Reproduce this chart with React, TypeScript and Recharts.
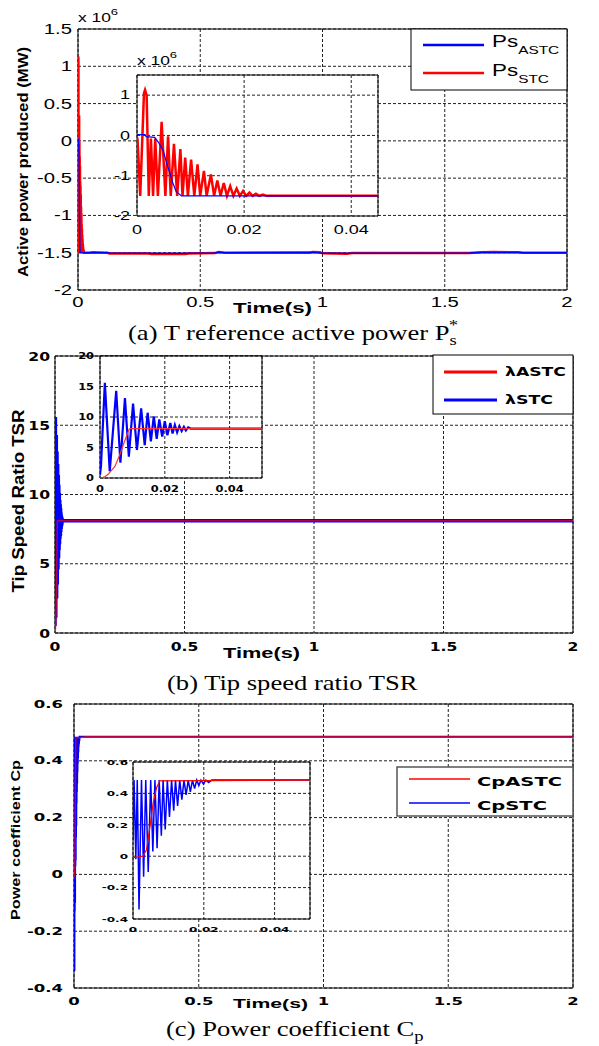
import React from 'react';
import { LineChart, Line, XAxis, YAxis, CartesianGrid, ReferenceArea } from 'recharts';

type Pt = [number, number];

// shared time ticks
const timeTicks = [0, 0.5, 1, 1.5, 2];
const insetTimeTicks = [0, 0.02, 0.04];

// (a) active power, values in units of 10^6
const powerTicksY = [-2, -1.5, -1, -0.5, 0, 0.5, 1, 1.5];
const powerInsetTicksY = [-2, -1, 0, 1];

const powerSTC: Pt[] = [
  [0, -0.05], [0.0001, -0.1], [0.0006, -1.5], [0.001, -0.05], [0.0013, 1.05], [0.0015, 1.13],
  [0.0018, 1.0], [0.0022, -1.5], [0.0026, -0.08], [0.003, -1.5], [0.0034, -0.08], [0.0039, -1.5],
  [0.0046, 0.34], [0.0053, -1.5], [0.0058, -0.02], [0.0063, -1.5], [0.0069, -0.21], [0.0075, -1.5],
  [0.0081, -0.34], [0.0085, -1.5], [0.009, -0.55], [0.0095, -1.5], [0.0101, -0.6], [0.0107, -1.5],
  [0.0113, -0.72], [0.0118, -1.5], [0.0125, -0.88], [0.013, -1.5], [0.0138, -0.97], [0.0144, -1.5],
  [0.015, -1.12], [0.0156, -1.5], [0.0162, -1.18], [0.0168, -1.5], [0.0174, -1.26], [0.018, -1.5],
  [0.0186, -1.32], [0.0192, -1.5], [0.0198, -1.38], [0.0204, -1.5], [0.021, -1.42], [0.0216, -1.5],
  [0.0222, -1.45], [0.0228, -1.5], [0.0235, -1.47], [0.0242, -1.5], [0.045, -1.5],
];
const powerASTC: Pt[] = [
  [0, 0.02], [0.0015, 0.02], [0.0017, -0.03], [0.0033, -0.05], [0.004, -0.17], [0.0049, -0.38],
  [0.0055, -0.67], [0.0061, -0.92], [0.0067, -1.18], [0.0073, -1.39], [0.0083, -1.5], [0.045, -1.5],
];
const powerSTCTail: Pt[] = [
  [0.06, -1.495], [0.12, -1.5], [0.13, -1.51], [0.29, -1.51], [0.3, -1.518], [0.44, -1.518], [0.45, -1.51],
  [0.56, -1.505], [0.575, -1.49], [0.6, -1.5], [0.95, -1.5], [0.96, -1.49], [0.99, -1.495], [1.0, -1.508],
  [1.1, -1.515], [1.12, -1.505], [1.6, -1.505], [1.65, -1.495], [1.7, -1.49], [1.8, -1.495], [1.82, -1.5], [2, -1.5],
];
const powerASTCTail: Pt[] = [
  [0.06, -1.5], [0.12, -1.5], [0.13, -1.507], [0.45, -1.507], [0.56, -1.503], [0.575, -1.493], [0.6, -1.5],
  [0.96, -1.495], [1.0, -1.506], [1.12, -1.506], [1.6, -1.505], [1.65, -1.497], [1.8, -1.497],
  [1.82, -1.5], [2, -1.5],
];

// (b) tip speed ratio
const tsrTicksY = [0, 5, 10, 15, 20];
const tsrSTC: Pt[] = [
  [0, 0.5], [0.0003, 2.0], [0.0015, 15.6], [0.003, 1.1], [0.005, 14.3], [0.0063, 2.5], [0.0077, 13.1],
  [0.0089, 3.5], [0.0102, 12.2], [0.0114, 4.6], [0.0127, 11.4], [0.0138, 5.4], [0.0147, 10.7],
  [0.0157, 6.0], [0.0166, 10.1], [0.0175, 6.4], [0.0183, 9.6], [0.0192, 6.8], [0.02, 9.3], [0.0208, 7.0],
  [0.0217, 9.0], [0.0224, 7.3], [0.0231, 8.7], [0.0238, 7.5], [0.0245, 8.5], [0.0252, 7.7], [0.0259, 8.4],
  [0.0265, 7.8], [0.0272, 8.3], [0.028, 8.1], [0.05, 8.1],
];
const tsrASTC: Pt[] = [
  [0, 0], [0.0015, 0.2], [0.0025, 0.6], [0.0046, 1.9], [0.0061, 3.8], [0.0077, 6.2], [0.009, 8.0],
  [0.0095, 8.1], [0.05, 8.1],
];
const tsrSTCTail: Pt[] = [[2, 8.1]];
const tsrASTCTail: Pt[] = [[2, 8.1]];

// (c) power coefficient
const cpTicksY = [-0.4, -0.2, 0, 0.2, 0.4, 0.6];
const cpSTC: Pt[] = [
  [0, 0.1], [0.0003, 0.485], [0.0008, -0.02], [0.0012, 0.485], [0.0017, -0.34], [0.0024, 0.485],
  [0.003, -0.13], [0.0036, 0.485], [0.0043, -0.1], [0.005, 0.485], [0.0056, 0.03], [0.0062, 0.485],
  [0.0068, 0.05], [0.0074, 0.485], [0.008, 0.13], [0.0085, 0.485], [0.0091, 0.17], [0.0097, 0.485],
  [0.0103, 0.25], [0.0109, 0.485], [0.0115, 0.29], [0.012, 0.485], [0.0126, 0.32], [0.0132, 0.485],
  [0.0138, 0.36], [0.0144, 0.485], [0.015, 0.39], [0.0156, 0.485], [0.0162, 0.41], [0.0168, 0.485],
  [0.0174, 0.43], [0.018, 0.485], [0.0186, 0.45], [0.0192, 0.485], [0.0199, 0.46], [0.0206, 0.485],
  [0.0214, 0.47], [0.0222, 0.485], [0.05, 0.485],
];
const cpASTC: Pt[] = [
  [0, -0.01], [0.0028, 0.0], [0.0038, 0.04], [0.0048, 0.19], [0.0057, 0.34], [0.0067, 0.44],
  [0.0076, 0.48], [0.05, 0.485],
];
const cpSTCTail: Pt[] = [[2, 0.485]];
const cpASTCTail: Pt[] = [[2, 0.485]];

type Series = { data: Pt[]; color: string; width: number; opacity?: number };
type TickFont = { family: string; size: number; weight: number; stretch: number };

const RED = '#ff0000';
const BLUE = '#0000ff';

function Plot(props: {
  x: number; y: number; w: number; h: number;
  xDomain: [number, number]; xTicks: number[];
  yDomain: [number, number]; yTicks: number[];
  font: TickFont; xGap: number; yGap: number;
  series: Series[];
}) {
  const { x, y, w, h, xDomain, xTicks, yDomain, yTicks, font, xGap, yGap, series } = props;
  const padL = 70, padT = 10, padR = 14, padB = 30;

  const tick = (axis: 'x' | 'y') => (p: any) => (
    <g transform={`translate(${p.x},${p.y}) scale(${font.stretch},1)`}>
      <text
        x={0}
        y={0}
        dy={axis === 'x' ? '0.72em' : '0.36em'}
        textAnchor={axis === 'x' ? 'middle' : 'end'}
        fontFamily={font.family}
        fontSize={font.size}
        fontWeight={font.weight}
        fill="#000"
      >
        {String(p.payload.value)}
      </text>
    </g>
  );

  return (
    <div style={{ position: 'absolute', left: x - padL, top: y - padT }}>
      <LineChart
        width={padL + w + padR}
        height={padT + h + padB}
        margin={{ top: padT, right: padR, bottom: 0, left: 0 }}
      >
        <CartesianGrid stroke="#222" strokeDasharray="3 2" fill="#fff" fillOpacity={1} />
        <XAxis
          dataKey="t"
          type="number"
          domain={xDomain}
          ticks={xTicks}
          interval={0}
          allowDataOverflow
          axisLine={false}
          tickLine={false}
          tickSize={0}
          tickMargin={xGap}
          height={padB}
          tick={tick('x')}
        />
        <YAxis
          type="number"
          domain={yDomain}
          ticks={yTicks}
          interval={0}
          allowDataOverflow
          axisLine={false}
          tickLine={false}
          tickSize={0}
          tickMargin={yGap}
          width={padL}
          tick={tick('y')}
        />
        {series.map((s, i) => (
          <Line
            key={i}
            data={s.data.map(([t, v]) => ({ t, v }))}
            dataKey="v"
            type="linear"
            dot={false}
            activeDot={false}
            stroke={s.color}
            strokeWidth={s.width}
            strokeOpacity={s.opacity ?? 1}
            isAnimationActive={false}
          />
        ))}
        <ReferenceArea
          x1={xDomain[0]}
          x2={xDomain[1]}
          y1={yDomain[0]}
          y2={yDomain[1]}
          fill="none"
          stroke="#000"
          strokeWidth={1}
          ifOverflow="visible"
        />
      </LineChart>
    </div>
  );
}

const arialTick = (size: number, stretch: number): TickFont => ({ family: 'Liberation Sans, Arial', size, weight: 400, stretch });
const heavyTick = (size: number, stretch: number): TickFont => ({ family: 'DejaVu Sans', size, weight: 700, stretch });

const serif = 'Liberation Serif, Times New Roman, serif';
const sans = 'Liberation Sans, Arial, sans-serif';

export default function App() {
  return (
    <div style={{ position: 'absolute', left: 0, top: 0, width: 599, height: 1046, background: '#fff', overflow: 'hidden' }}>
      {/* (a) */}
      <Plot
        x={78} y={29} w={489} h={261}
        xDomain={[0, 2]} xTicks={timeTicks}
        yDomain={[-2, 1.5]} yTicks={powerTicksY}
        font={arialTick(14, 1.45)} xGap={7} yGap={6}
        series={[
          { data: [...powerSTC, ...powerSTCTail], color: RED, width: 2.5 },
          { data: [...powerASTC, ...powerASTCTail], color: BLUE, width: 1.5 },
        ]}
      />
      <Plot
        x={137} y={75} w={241} h={141}
        xDomain={[0, 0.045]} xTicks={insetTimeTicks}
        yDomain={[-2, 1.5]} yTicks={powerInsetTicksY}
        font={arialTick(12, 1.5)} xGap={9} yGap={7}
        series={[
          { data: powerSTC, color: RED, width: 2.5 },
          { data: powerASTC, color: BLUE, width: 1.2 },
        ]}
      />

      {/* (b) */}
      <Plot
        x={55} y={356} w={518} h={277}
        xDomain={[0, 2]} xTicks={timeTicks}
        yDomain={[0, 20]} yTicks={tsrTicksY}
        font={heavyTick(13, 1.2)} xGap={9} yGap={5}
        series={[
          { data: [...tsrSTC, ...tsrSTCTail], color: BLUE, width: 3.5 },
          { data: [...tsrASTC, ...tsrASTCTail], color: RED, width: 1.5, opacity: 0.7 },
        ]}
      />
      <Plot
        x={100} y={356} w={162} h={122}
        xDomain={[0, 0.05]} xTicks={insetTimeTicks}
        yDomain={[0, 20]} yTicks={tsrTicksY}
        font={heavyTick(9.5, 1.2)} xGap={7} yGap={6}
        series={[
          { data: tsrSTC, color: BLUE, width: 2.2 },
          { data: tsrASTC, color: '#ff3030', width: 1.2 },
        ]}
      />

      {/* (c) */}
      <Plot
        x={74} y={704} w={499} h={284}
        xDomain={[0, 2]} xTicks={timeTicks}
        yDomain={[-0.4, 0.6]} yTicks={cpTicksY}
        font={heavyTick(10, 1.65)} xGap={10} yGap={11}
        series={[
          { data: [...cpSTC, ...cpSTCTail], color: BLUE, width: 2 },
          { data: [...cpASTC, ...cpASTCTail], color: RED, width: 1.5, opacity: 0.7 },
        ]}
      />
      <Plot
        x={133} y={762} w={177} h={157}
        xDomain={[0, 0.05]} xTicks={insetTimeTicks}
        yDomain={[-0.4, 0.6]} yTicks={cpTicksY}
        font={heavyTick(7.5, 1.6)} xGap={8} yGap={5}
        series={[
          { data: cpSTC, color: BLUE, width: 1.5 },
          { data: cpASTC, color: RED, width: 1.2 },
        ]}
      />

      {/* labels, legends and captions */}
      <svg width={599} height={1046} style={{ position: 'absolute', left: 0, top: 0, pointerEvents: 'none' }}>
        {/* (a) */}
        <g transform="translate(78,22) scale(1.45,1)" fontFamily={sans} fontSize={12}>
          <text>x 10<tspan dy={-7} fontSize={9}>6</tspan></text>
        </g>
        <g transform="translate(137,65) scale(1.45,1)" fontFamily={sans} fontSize={12}>
          <text>x 10<tspan dy={-7} fontSize={9}>6</tspan></text>
        </g>
        <text transform="translate(28,162) rotate(-90)" textAnchor="middle" fontFamily={sans} fontWeight={700} fontSize={14} textLength={230} lengthAdjust="spacingAndGlyphs">
          Active power produced (MW)
        </text>
        <text x={233} y={313} fontFamily={sans} fontWeight={700} fontSize={15} textLength={79} lengthAdjust="spacingAndGlyphs">Time(s)</text>
        <rect x={411} y={29} width={156} height={61} fill="#fff" stroke="#000" />
        <line x1={423} x2={484} y1={45} y2={45} stroke={BLUE} strokeWidth={2.5} />
        <line x1={423} x2={484} y1={73} y2={73} stroke={RED} strokeWidth={2.5} />
        <g transform="translate(492,47) scale(1.4,1)" fontFamily={sans} fontSize={16}>
          <text>Ps<tspan dy={7} fontSize={11}>ASTC</tspan></text>
        </g>
        <g transform="translate(492,76) scale(1.4,1)" fontFamily={sans} fontSize={16}>
          <text>Ps<tspan dy={7} fontSize={11}>STC</tspan></text>
        </g>
        <g transform="translate(128,340) scale(1.33,1)" fontFamily={serif} fontSize={20}>
          <text>(a) T reference active power P<tspan dy={5} fontSize={14}>s</tspan><tspan dx={-6} dy={-15} fontSize={14}>*</tspan></text>
        </g>

        {/* (b) */}
        <text transform="translate(24,501) rotate(-90)" textAnchor="middle" fontFamily={sans} fontWeight={700} fontSize={16} textLength={183} lengthAdjust="spacingAndGlyphs">
          Tip Speed Ratio TSR
        </text>
        <text x={223} y={658} fontFamily={sans} fontWeight={700} fontSize={14} textLength={77} lengthAdjust="spacingAndGlyphs">Time(s)</text>
        <rect x={433} y={355} width={140} height={59} fill="#fff" stroke="#000" />
        <line x1={444} x2={497} y1={372} y2={372} stroke={RED} strokeWidth={3} />
        <line x1={444} x2={497} y1={400} y2={400} stroke={BLUE} strokeWidth={3} />
        <text x={505} y={376} fontFamily="DejaVu Sans" fontWeight={700} fontSize={12.5} textLength={61} lengthAdjust="spacingAndGlyphs">λASTC</text>
        <text x={505} y={404} fontFamily="DejaVu Sans" fontWeight={700} fontSize={12.5} textLength={48} lengthAdjust="spacingAndGlyphs">λSTC</text>
        <g transform="translate(167,690) scale(1.33,1)" fontFamily={serif} fontSize={20}>
          <text>(b) Tip speed ratio TSR</text>
        </g>

        {/* (c) */}
        <text transform="translate(20,840) rotate(-90)" textAnchor="middle" fontFamily={sans} fontWeight={700} fontSize={12} textLength={160} lengthAdjust="spacingAndGlyphs">
          Power coefficient Cp
        </text>
        <text x={233} y={1008} fontFamily={sans} fontWeight={700} fontSize={12.5} textLength={75} lengthAdjust="spacingAndGlyphs">Time(s)</text>
        <rect x={397} y={767} width={176} height={49} fill="#fff" stroke="#555" strokeWidth={1.5} />
        <line x1={409} x2={470} y1={779} y2={779} stroke={RED} strokeWidth={1.5} />
        <line x1={409} x2={470} y1={803} y2={803} stroke={BLUE} strokeWidth={1.5} />
        <text x={477} y={786} fontFamily="DejaVu Sans" fontWeight={700} fontSize={13} textLength={85} lengthAdjust="spacingAndGlyphs">CpASTC</text>
        <text x={477} y={810} fontFamily="DejaVu Sans" fontWeight={700} fontSize={13} textLength={70} lengthAdjust="spacingAndGlyphs">CpSTC</text>
        <g transform="translate(166,1036) scale(1.33,1)" fontFamily={serif} fontSize={20}>
          <text>(c) Power coefficient C<tspan dy={5} fontSize={14}>p</tspan></text>
        </g>
      </svg>
    </div>
  );
}
